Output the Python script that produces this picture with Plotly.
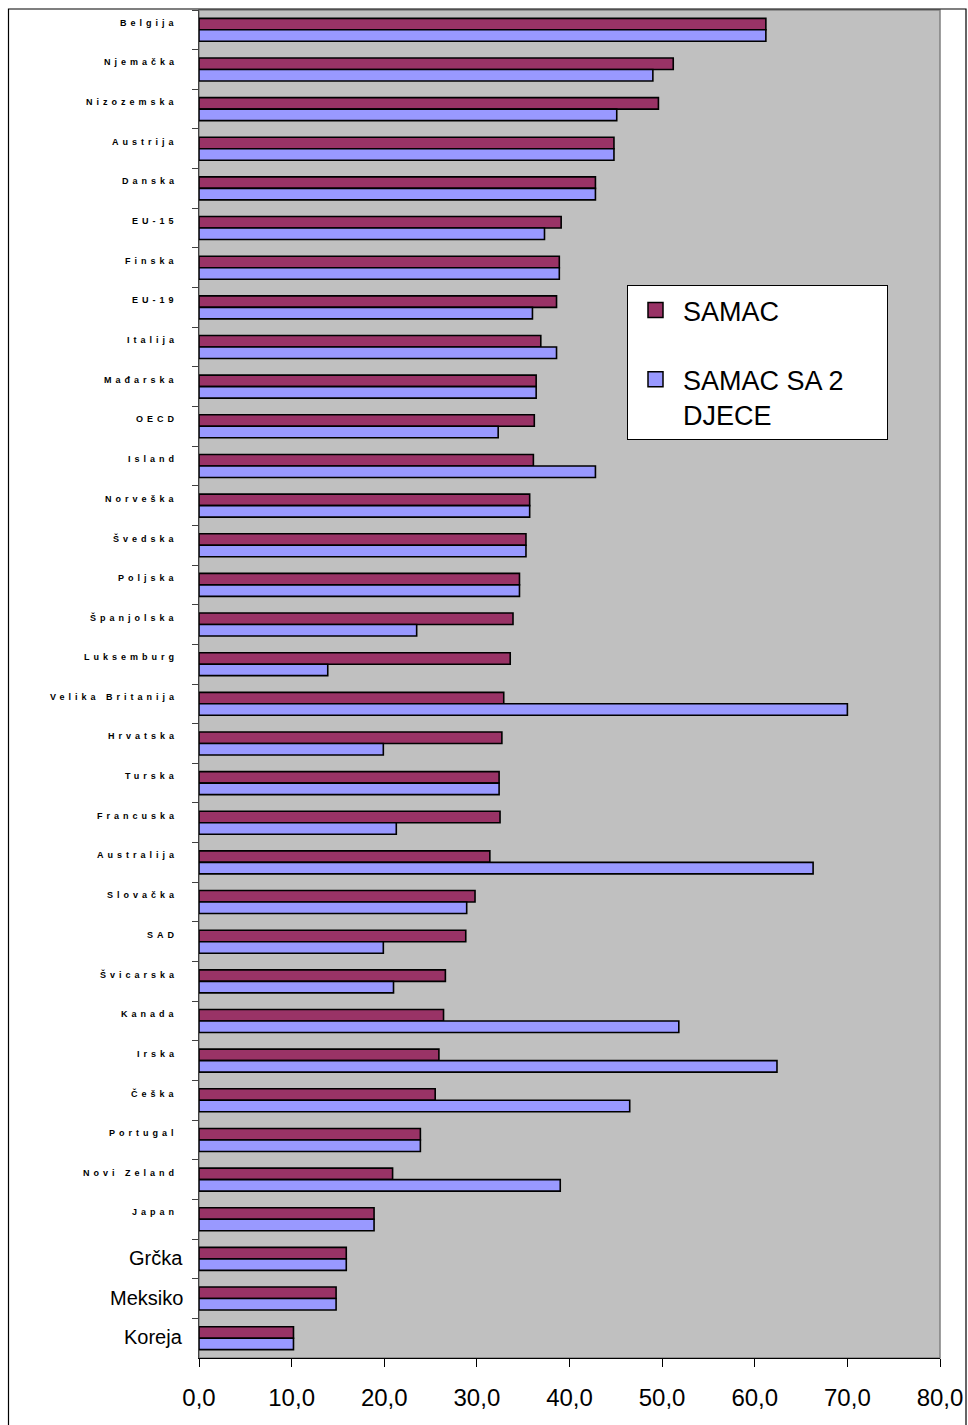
import plotly.graph_objects as go

# ---- data ----
countries = [
    "Belgija", "Njemačka", "Nizozemska", "Austrija", "Danska", "EU-15", "Finska",
    "EU-19", "Italija", "Mađarska", "OECD", "Island", "Norveška", "Švedska",
    "Poljska", "Španjolska", "Luksemburg", "Velika Britanija", "Hrvatska", "Turska",
    "Francuska", "Australija", "Slovačka", "SAD", "Švicarska", "Kanada", "Irska",
    "Češka", "Portugal", "Novi Zeland", "Japan", "Grčka", "Meksiko", "Koreja",
]
samac = [
    61.2, 51.2, 49.6, 44.8, 42.8, 39.1, 38.9,
    38.6, 36.9, 36.4, 36.2, 36.1, 35.7, 35.3,
    34.6, 33.9, 33.6, 32.9, 32.7, 32.4,
    32.5, 31.4, 29.8, 28.8, 26.6, 26.4, 25.9,
    25.5, 23.9, 20.9, 18.9, 15.9, 14.8, 10.2,
]
samac_2_djece = [
    61.2, 49.0, 45.1, 44.8, 42.8, 37.3, 38.9,
    36.0, 38.6, 36.4, 32.3, 42.8, 35.7, 35.3,
    34.6, 23.5, 13.9, 70.0, 19.9, 32.4,
    21.3, 66.3, 28.9, 19.9, 21.0, 51.8, 62.4,
    46.5, 23.9, 39.0, 18.9, 15.9, 14.8, 10.2,
]
series_names = ["SAMAC", "SAMAC SA 2", "DJECE"]  # second series name spans two lines
series_colors = ["#993366", "#9999FF"]
x_ticks = [0, 10, 20, 30, 40, 50, 60, 70, 80]

# labels drawn in the large font (the last three in the reference)
large_labels = {"Grčka", "Meksiko", "Koreja"}

FONT = "Liberation Sans, Arial, sans-serif"
PAD = "&nbsp;" * 5  # right padding inside the legend box
legend_names = [series_names[0], series_names[1] + PAD + "<br>" + series_names[2]]

fig = go.Figure()
for vals, col, nm, grp in [(samac, series_colors[0], legend_names[0], "g1"),
                           (samac_2_djece, series_colors[1], legend_names[1], "g2")]:
    fig.add_trace(go.Bar(
        y=countries, x=vals, orientation="h", name=nm, legendgroup=grp,
        showlegend=False,
        marker=dict(color=col, line=dict(color="#000000", width=1.6)),
    ))
# legend entries (larger square swatches, like the reference)
for col, nm, grp in [(series_colors[0], legend_names[0], "g1"),
                     (series_colors[1], legend_names[1], "g2")]:
    fig.add_trace(go.Scatter(
        x=[None], y=[None], mode="markers", name=nm, legendgroup=grp,
        marker=dict(symbol="square", size=15, color=col,
                    line=dict(color="#000000", width=1.5)),
        hoverinfo="skip",
    ))

annotations = []
for c in countries:
    if c in large_labels:
        annotations.append(dict(
            xref="paper", yref="y", x=0, y=c, xanchor="right", yanchor="middle",
            xshift=-14, yshift=1, showarrow=False, text=c,
            font=dict(family=FONT, size=20, color="#000000"),
        ))
    else:
        annotations.append(dict(
            xref="paper", yref="y", x=0, y=c, xanchor="right", yanchor="middle",
            xshift=-19, yshift=7, showarrow=False,
            text='<b><span style="letter-spacing:4px">' + c + '</span></b>',
            font=dict(family=FONT, size=9, color="#000000"),
        ))

W, H = 968, 1425
L, R, T, B = 199, 28, 10, 67
pw, ph = W - L - R, H - T - B

def px_to_paper_x(px):
    return (px - L) / pw

def px_to_paper_y(py):
    return 1 - (py - T) / ph

shapes = [
    # plot-area frame (grey)
    dict(type="rect", xref="paper", yref="paper", x0=0, x1=1, y0=0, y1=1,
         line=dict(color="#808080", width=1.5), layer="below"),
    # outer chart border
    dict(type="rect", xref="paper", yref="paper",
         x0=px_to_paper_x(8.5), x1=px_to_paper_x(966),
         y0=px_to_paper_y(1440), y1=px_to_paper_y(9),
         line=dict(color="#000000", width=1.2), layer="below"),
]

fig.update_layout(
    width=W, height=H,
    margin=dict(l=L, r=R, t=T, b=B, autoexpand=False),
    paper_bgcolor="#FFFFFF",
    plot_bgcolor="#C0C0C0",
    barmode="group",
    bargap=0.42,
    bargroupgap=0,
    separators=", ",
    font=dict(family=FONT, color="#000000"),
    showlegend=True,
    legend=dict(
        x=px_to_paper_x(627), y=px_to_paper_y(285), xanchor="left", yanchor="top",
        bgcolor="#FFFFFF", bordercolor="#000000", borderwidth=1,
        font=dict(family=FONT, size=27, color="#000000"),
        traceorder="grouped", tracegroupgap=31, valign="top",
        itemwidth=45, itemsizing="trace",
    ),
    xaxis=dict(
        range=[0, 80], tickvals=x_ticks, tickformat=".1f",
        ticks="outside", ticklen=8, tickcolor="#000000", tickwidth=1,
        ticklabelstandoff=10, automargin=False,
        showline=True, linecolor="#000000", linewidth=1,
        showgrid=False, zeroline=False,
        tickfont=dict(family=FONT, size=24, color="#000000"),
    ),
    yaxis=dict(
        type="category", categoryorder="array", categoryarray=countries,
        autorange="reversed", automargin=False,
        showticklabels=False, ticks="outside", tickson="boundaries",
        ticklen=6, tickcolor="#404040", tickwidth=1,
        showline=True, linecolor="#404040", linewidth=1,
        showgrid=False, zeroline=False,
    ),
    annotations=annotations,
    shapes=shapes,
)

fig.write_html(
    "out.html",
    config={"displayModeBar": False},
    post_script=(
        "document.body.style.margin='0';"
        "document.body.style.overflow='hidden';"
        "document.documentElement.style.overflow='hidden';"
    ),
)
